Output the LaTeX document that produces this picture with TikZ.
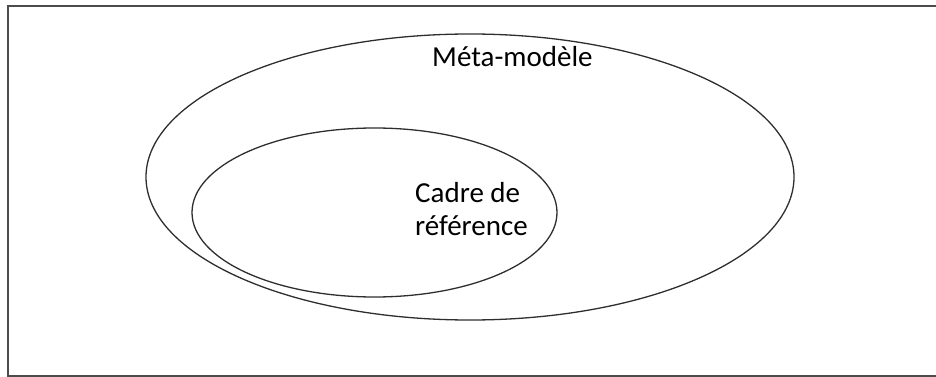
\documentclass[tikz,border=0pt]{standalone}
\usepackage{fontspec}
\setmainfont{Carlito}
\usetikzlibrary{shapes.geometric,positioning}

\begin{document}
\begin{tikzpicture}[x=1pt,y=-1pt]
		    \definecolor{framecol}{rgb}{0.30,0.30,0.30}
		    \definecolor{linecol}{rgb}{0.18,0.18,0.18}
		    \tikzset{oval/.style={draw=linecol,line width=1.3pt,ellipse,inner sep=0pt},
		             label/.style={anchor=base west,inner sep=0pt,align=left,font=\fontsize{29}{33}\selectfont}}
		    \useasboundingbox (0,0) rectangle (936,377);
		    \clip (0,0) rectangle (936,377);
		    \draw[framecol,line width=2.4pt] (8,6) rectangle (950,376);
		    \node(metamodel) [oval,minimum width=648pt,minimum height=286pt] at (470,177) {};
		    \node(cadre) [oval,minimum width=365pt,minimum height=169pt] at (374.5,212.5) {};
		    \node(metatext) [label] at (432,67) {Méta-modèle};
		    \node(cadretext) [label] at (415,235) {Cadre de\\référence};
\end{tikzpicture}
\end{document}
